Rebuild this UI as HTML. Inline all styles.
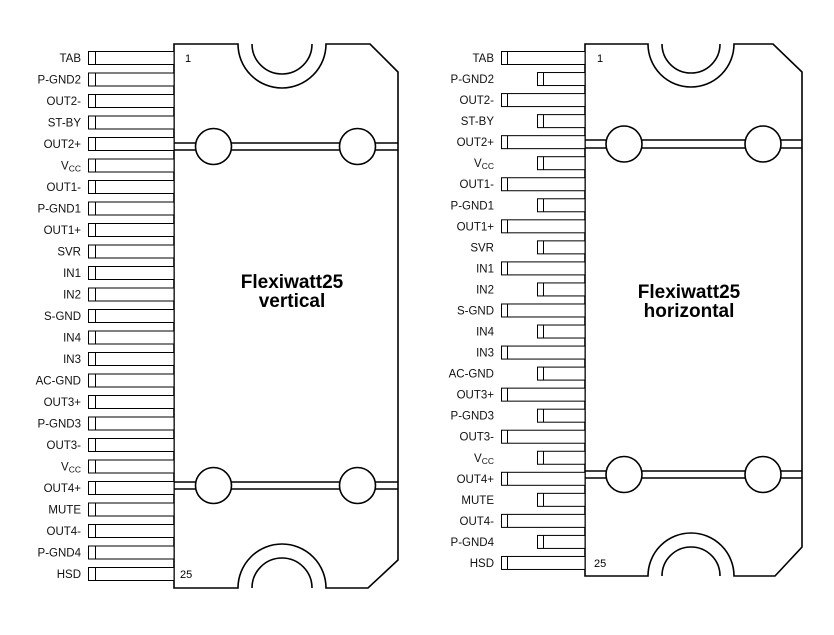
<!DOCTYPE html>
<html><head><meta charset="utf-8"><style>
html,body{margin:0;padding:0;background:#fff;}
svg{display:block;font-family:"Liberation Sans",Arial,sans-serif;}
</style></head><body>
<svg width="834" height="635" viewBox="0 0 834 635" xmlns="http://www.w3.org/2000/svg">
<g fill="none" stroke="#000" stroke-width="1.6">
<path d="M174 44 H238 A44 44 0 0 0 326 44 H370 L398 72 V560 L368 588 H326 A44 44 0 0 0 238 588 H174 Z" fill="#fff"/>
<path d="M252 44 A30 30 0 0 0 312 44 M252 588 A30 30 0 0 1 312 588"/>
<path d="M174 143 H196 M231 143 H340 M375 143 H398 M174 150 H196 M231 150 H340 M375 150 H398"/>
<circle cx="213.5" cy="146.5" r="18"/><circle cx="357.5" cy="146.5" r="18"/>
<path d="M174 482 H196 M231 482 H340 M375 482 H398 M174 489 H196 M231 489 H340 M375 489 H398"/>
<circle cx="213.5" cy="485.5" r="18"/><circle cx="357.5" cy="485.5" r="18"/>
<path d="M585 44 H648 A43 43 0 0 0 734 44 H773 L802 72 V547 L775 576 H734 A43 43 0 0 0 648 576 H585 Z" fill="#fff"/>
<path d="M662 44 A29 29 0 0 0 720 44 M662 576 A29 29 0 0 1 720 576"/>
<path d="M585 140 H607 M641 140 H746 M780 140 H802 M585 148 H607 M641 148 H746 M780 148 H802"/>
<circle cx="624" cy="144" r="18"/><circle cx="763" cy="144" r="18"/>
<path d="M585 471 H607 M641 471 H746 M780 471 H802 M585 478 H607 M641 478 H746 M780 478 H802"/>
<circle cx="624" cy="474.5" r="18"/><circle cx="763" cy="474.5" r="18"/>
</g>
<g id="pins" fill="#fff" stroke="#000" stroke-width="1"></g>
<g font-size="11.5" fill="#111" text-anchor="end" id="labels"></g>
<g font-size="11" fill="#000">
<text x="185" y="62">1</text><text x="180" y="578">25</text>
<text x="597" y="62">1</text><text x="594" y="567">25</text>
</g>
<g font-size="19" font-weight="bold" text-anchor="middle" fill="#000">
<text x="292" y="288">Flexiwatt25</text><text x="292" y="307">vertical</text>
<text x="689" y="298">Flexiwatt25</text><text x="689" y="317">horizontal</text>
</g>
<script>
var names=["TAB","P-GND2","OUT2-","ST-BY","OUT2+","VCC","OUT1-","P-GND1","OUT1+","SVR","IN1","IN2","S-GND","IN4","IN3","AC-GND","OUT3+","P-GND3","OUT3-","VCC","OUT4+","MUTE","OUT4-","P-GND4","HSD"];
var NS="http://www.w3.org/2000/svg",P=document.getElementById("pins"),L=document.getElementById("labels");
function r(x,y,w,h){var e=document.createElementNS(NS,"rect");e.setAttribute("x",x);e.setAttribute("y",y);e.setAttribute("width",w);e.setAttribute("height",h);P.appendChild(e);}
function l(x1,y1,x2,y2){var e=document.createElementNS(NS,"line");e.setAttribute("x1",x1);e.setAttribute("y1",y1);e.setAttribute("x2",x2);e.setAttribute("y2",y2);P.appendChild(e);}
function t(x,y,s){var e=document.createElementNS(NS,"text");e.setAttribute("x",x);e.setAttribute("y",y);
if(s=="VCC"){e.appendChild(document.createTextNode("V"));var ts=document.createElementNS(NS,"tspan");ts.setAttribute("font-size","8.5");ts.setAttribute("dy","2");ts.textContent="CC";e.appendChild(ts);}else e.textContent=s;L.appendChild(e);}
for(var i=0;i<25;i++){
 var y=58+i*21.5;
 r(88.5,y-6.5,85.5,13);l(95.5,y-6.5,95.5,y+6.5);t(81,y+4,names[i]);
 var y2=58+i*21.04;
 var x0=(i%2==0)?501.5:537.5;
 r(x0,y2-6.5,585-x0,13);l(x0+6,y2-6.5,x0+6,y2+6.5);t(494,y2+4,names[i]);
}
</script>
</svg>
</body></html>
